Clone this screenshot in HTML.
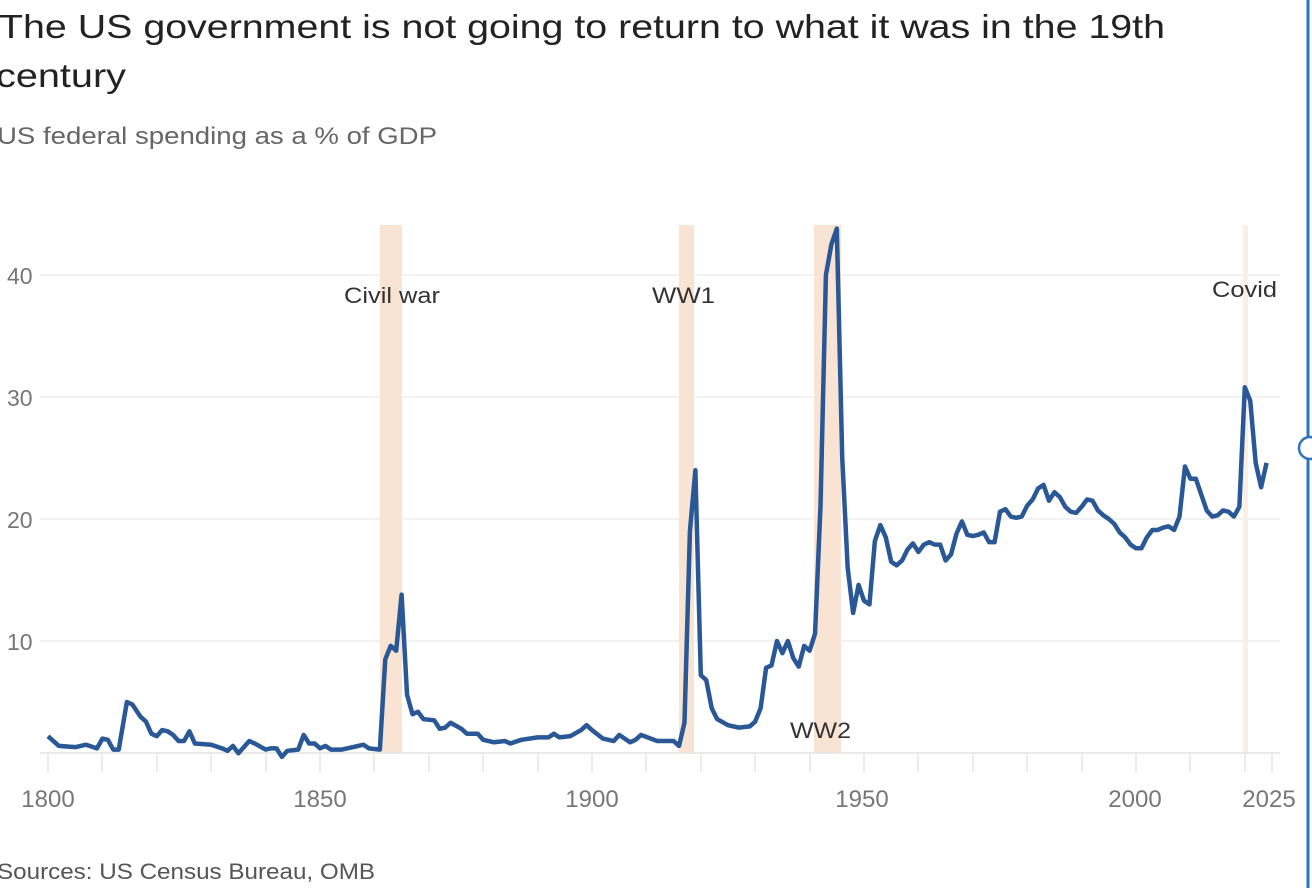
<!DOCTYPE html>
<html><head><meta charset="utf-8"><style>
body{margin:0;width:1312px;height:888px;background:#fff;overflow:hidden;font-family:"Liberation Sans",sans-serif}
</style></head><body>
<svg width="1312" height="888" xmlns="http://www.w3.org/2000/svg" font-family="Liberation Sans, sans-serif">
<text x="-1" y="38" font-size="33" fill="#222" textLength="1166" lengthAdjust="spacingAndGlyphs">The US government is not going to return to what it was in the 19th</text>
<text x="-4" y="87" font-size="33" fill="#222" textLength="130" lengthAdjust="spacingAndGlyphs">century</text>
<text x="-3" y="144" font-size="24" fill="#666" textLength="440" lengthAdjust="spacingAndGlyphs">US federal spending as a % of GDP</text>
<g stroke="#f0eeec" stroke-width="1.5">
<line x1="40" y1="275" x2="1280" y2="275"/><line x1="40" y1="397" x2="1280" y2="397"/>
<line x1="40" y1="519" x2="1280" y2="519"/><line x1="40" y1="641" x2="1280" y2="641"/>
</g>
<g fill="#f9e3d3">
<rect x="380" y="225" width="22" height="528"/><rect x="679" y="225" width="15" height="528"/>
<rect x="814" y="225" width="27" height="528"/><rect x="1243" y="225" width="5" height="528" fill="#fbeee4"/>
</g>
<line x1="40" y1="753" x2="1280" y2="753" stroke="#e6e4e2" stroke-width="1.5"/>
<g stroke="#e6e4e2" stroke-width="1.5">
<line x1="48" y1="753" x2="48" y2="772"/><line x1="102" y1="753" x2="102" y2="772"/><line x1="157" y1="753" x2="157" y2="772"/><line x1="211" y1="753" x2="211" y2="772"/><line x1="266" y1="753" x2="266" y2="772"/><line x1="320" y1="753" x2="320" y2="772"/><line x1="374" y1="753" x2="374" y2="772"/><line x1="429" y1="753" x2="429" y2="772"/><line x1="483" y1="753" x2="483" y2="772"/><line x1="538" y1="753" x2="538" y2="772"/><line x1="592" y1="753" x2="592" y2="772"/><line x1="646" y1="753" x2="646" y2="772"/><line x1="701" y1="753" x2="701" y2="772"/><line x1="755" y1="753" x2="755" y2="772"/><line x1="810" y1="753" x2="810" y2="772"/><line x1="864" y1="753" x2="864" y2="772"/><line x1="918" y1="753" x2="918" y2="772"/><line x1="973" y1="753" x2="973" y2="772"/><line x1="1027" y1="753" x2="1027" y2="772"/><line x1="1082" y1="753" x2="1082" y2="772"/><line x1="1136" y1="753" x2="1136" y2="772"/><line x1="1190" y1="753" x2="1190" y2="772"/><line x1="1245" y1="753" x2="1245" y2="772"/><line x1="1272" y1="753" x2="1272" y2="772"/>
</g>
<g font-size="23" fill="#777">
<text x="7" y="284">40</text><text x="7" y="406">30</text><text x="7" y="528">20</text><text x="7" y="650">10</text>
</g>
<g font-size="24" fill="#777" text-anchor="middle">
<text x="48" y="807">1800</text><text x="320" y="807">1850</text><text x="592" y="807">1900</text><text x="862" y="807">1950</text><text x="1135" y="807">2000</text><text x="1269" y="807">2025</text>
</g>
<g font-size="22" fill="#333">
<text x="344" y="303" textLength="96" lengthAdjust="spacingAndGlyphs">Civil war</text>
<text x="652" y="303" textLength="63" lengthAdjust="spacingAndGlyphs">WW1</text>
<text x="790" y="738" textLength="61" lengthAdjust="spacingAndGlyphs">WW2</text>
<text x="1212" y="297" textLength="65" lengthAdjust="spacingAndGlyphs">Covid</text>
</g>
<g transform="translate(-9744,763) scale(5.44,-12.2)">
<polyline fill="none" stroke="#2a5896" stroke-width="4.5" stroke-linejoin="round" vector-effect="non-scaling-stroke" points="1800,2.2 1802,1.4 1805,1.3 1807,1.5 1809,1.2 1810,2.0 1811,1.9 1812,1.1 1813,1.1 1814.5,5.0 1815.5,4.8 1817,3.8 1818,3.4 1819,2.4 1820,2.2 1821,2.7 1822,2.6 1823,2.3 1824,1.8 1825,1.8 1826,2.6 1827,1.6 1830,1.5 1832,1.2 1833,1.0 1834,1.4 1835,0.8 1837,1.8 1838,1.6 1840,1.1 1841,1.2 1842,1.2 1843,0.5 1844,1.0 1846,1.1 1847,2.3 1848,1.6 1849,1.6 1850,1.2 1851,1.4 1852,1.1 1854,1.1 1856,1.3 1858,1.5 1859,1.2 1861,1.1 1862,8.5 1863,9.6 1864,9.2 1865,13.8 1866,5.6 1867,4.0 1868,4.2 1869,3.6 1871,3.5 1872,2.8 1873,2.9 1874,3.3 1876,2.8 1877,2.4 1879,2.4 1880,1.9 1882,1.7 1884,1.8 1885,1.6 1887,1.9 1890,2.1 1892,2.1 1893,2.4 1894,2.1 1896,2.2 1898,2.7 1899,3.1 1900,2.7 1902,2.0 1904,1.8 1905,2.3 1907,1.7 1908,1.9 1909,2.3 1912,1.8 1914,1.8 1915,1.8 1916,1.4 1917,3.3 1918,19 1919,24 1920,7.2 1921,6.8 1922,4.5 1923,3.6 1925,3.1 1927,2.9 1929,3.0 1930,3.4 1931,4.5 1932,7.8 1933,8.0 1934,10.0 1935,9.0 1936,10.0 1937,8.6 1938,7.9 1939,9.6 1940,9.2 1941,10.6 1942,21 1943,40 1944,42.5 1945,43.8 1946,25 1947,16 1948,12.3 1949,14.6 1950,13.3 1951,13.0 1952,18.2 1953,19.5 1954,18.5 1955,16.5 1956,16.2 1957,16.6 1958,17.5 1959,18.0 1960,17.3 1961,17.9 1962,18.1 1963,17.9 1964,17.9 1965,16.6 1966,17.1 1967,18.8 1968,19.8 1969,18.7 1970,18.6 1971,18.7 1972,18.9 1973,18.1 1974,18.1 1975,20.6 1976,20.8 1977,20.2 1978,20.1 1979,20.2 1980,21.1 1981,21.6 1982,22.5 1983,22.8 1984,21.5 1985,22.2 1986,21.8 1987,21.0 1988,20.6 1989,20.5 1990,21.0 1991,21.6 1992,21.5 1993,20.7 1994,20.3 1995,20.0 1996,19.6 1997,18.9 1998,18.5 1999,17.9 2000,17.6 2001,17.6 2002,18.5 2003,19.1 2004,19.1 2005,19.3 2006,19.4 2007,19.1 2008,20.2 2009,24.3 2010,23.3 2011,23.3 2012,22.0 2013,20.7 2014,20.2 2015,20.3 2016,20.7 2017,20.6 2018,20.2 2019,21.0 2020,30.8 2021,29.7 2022,24.6 2023,22.6 2024,24.6"/>
</g>
<line x1="1308" y1="0" x2="1308" y2="888" stroke="#2f74b5" stroke-width="3"/>
<circle cx="1310" cy="448" r="11" fill="#fff" stroke="#2f74b5" stroke-width="2.5"/>
<text x="-3" y="879" font-size="22" fill="#555" textLength="378" lengthAdjust="spacingAndGlyphs">Sources: US Census Bureau, OMB</text>
</svg>
</body></html>
